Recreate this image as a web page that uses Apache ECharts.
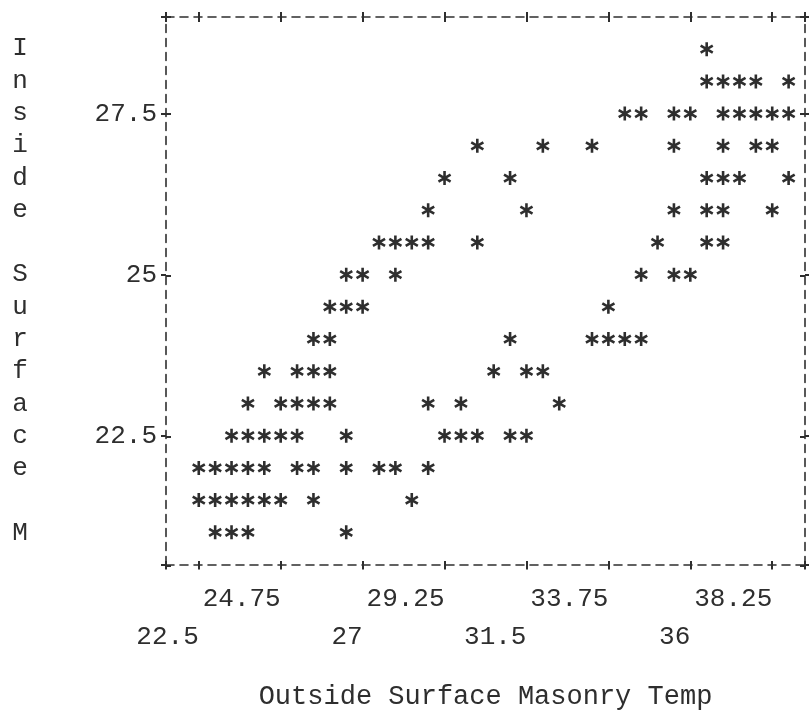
<!DOCTYPE html>
<html>
<head>
<meta charset="utf-8">
<script src="https://cdn.jsdelivr.net/npm/echarts@6/dist/echarts.min.js"></script>
<style>
  html, body { margin: 0; padding: 0; background: #fff; }
  #plot { width: 809px; height: 715px; }
</style>
</head>
<body>
<div id="plot"></div>
<script>
// rows of the printer plot: inside temp, and the outside temps printed on that row
var insideRows = [28.5, 28, 27.5, 27, 26.5, 26, 25.5, 25, 24.5, 24, 23.5, 23, 22.5, 22, 21.5, 21];
var outsideByRow = [
    [36.45],
    [36.45, 36.9, 37.35, 37.8, 38.7],
    [34.2, 34.65, 35.55, 36.0, 36.9, 37.35, 37.8, 38.25, 38.7],
    [30.15, 31.95, 33.3, 35.55, 36.9, 37.8, 38.25],
    [29.25, 31.05, 36.45, 36.9, 37.35, 38.7],
    [28.8, 31.5, 35.55, 36.45, 36.9, 38.25],
    [27.45, 27.9, 28.35, 28.8, 30.15, 35.1, 36.45, 36.9],
    [26.55, 27.0, 27.9, 34.65, 35.55, 36.0],
    [26.1, 26.55, 27.0, 33.75],
    [25.65, 26.1, 31.05, 33.3, 33.75, 34.2, 34.65],
    [24.3, 25.2, 25.65, 26.1, 30.6, 31.5, 31.95],
    [23.85, 24.75, 25.2, 25.65, 26.1, 28.8, 29.7, 32.4],
    [23.4, 23.85, 24.3, 24.75, 25.2, 26.55, 29.25, 29.7, 30.15, 31.05, 31.5],
    [22.5, 22.95, 23.4, 23.85, 24.3, 25.2, 25.65, 26.55, 27.45, 27.9, 28.8],
    [22.5, 22.95, 23.4, 23.85, 24.3, 24.75, 25.65, 28.35],
    [22.95, 23.4, 23.85, 26.55]
];

var xLabels = [22.5, 24.75, 27, 29.25, 31.5, 33.75, 36, 38.25];
var xTicks = [21.6, 22.5, 24.75, 27, 29.25, 31.5, 33.75, 36, 38.25, 39.15];
var yLabels = [22.5, 25, 27.5];
var yTicks = [20.5, 22.5, 25, 27.5, 29];
var xRange = [21.6, 39.15];
var yRange = [20.5, 29];

var xTitle = 'Outside Surface Masonry Temp';
var yTitle = 'Inside Surface M';

var points = [];
insideRows.forEach(function (y, i) {
    outsideByRow[i].forEach(function (x) { points.push([x, y]); });
});

var ink = '#2e2e2e';
var mono = "'Liberation Mono', 'DejaVu Sans Mono', monospace";

function xAxisOf(grid, pos, inside, withText) {
    return {
        type: 'value', gridIndex: grid, position: pos,
        min: xRange[0], max: xRange[1],
        axisLine: { show: !inside, lineStyle: { color: ink, width: 1.6, type: [8, 6] } },
        axisTick: { show: true, inside: inside, length: 5, customValues: xTicks,
                    lineStyle: { color: ink, width: 2 } },
        axisLabel: withText ? {
            show: true, customValues: xLabels, align: 'right', margin: 16,
            fontFamily: mono, fontSize: 26, color: ink, lineHeight: 38,
            formatter: function (v) {
                var k = xLabels.indexOf(v);
                return k % 2 === 0 ? '\n' + v : String(v);
            }
        } : { show: false },
        splitLine: { show: false },
        name: withText ? xTitle : '',
        nameLocation: 'middle', nameGap: 132,
        nameTextStyle: { fontFamily: mono, fontSize: 27, color: ink, verticalAlign: 'middle' }
    };
}

function yAxisOf(grid, pos, inside, withText) {
    return {
        type: 'value', gridIndex: grid, position: pos,
        min: yRange[0], max: yRange[1],
        axisLine: { show: !inside, lineStyle: { color: ink, width: 1.6, type: [8, 6] } },
        axisTick: { show: true, inside: inside, length: 5, customValues: yTicks,
                    lineStyle: { color: ink, width: 2 } },
        axisLabel: withText ? {
            show: true, customValues: yLabels, margin: 9,
            fontFamily: mono, fontSize: 26, color: ink
        } : { show: false },
        splitLine: { show: false },
        name: withText ? yTitle.split('').join('\n') : '',
        nameLocation: 'middle', nameRotate: 0, nameGap: 146,
        nameTextStyle: { fontFamily: mono, fontSize: 26, color: ink, lineHeight: 32.3,
                         align: 'center', verticalAlign: 'middle' }
    };
}

var chart = echarts.init(document.getElementById('plot'));
var box = { left: 166, right: 4, top: 17, bottom: 149, containLabel: false };

chart.setOption({
    backgroundColor: '#ffffff',
    animation: false,
    grid: [box, box],
    xAxis: [
        xAxisOf(0, 'bottom', false, true),
        xAxisOf(0, 'top', false, false),
        xAxisOf(1, 'bottom', true, false),
        xAxisOf(1, 'top', true, false)
    ],
    yAxis: [
        yAxisOf(0, 'left', false, true),
        yAxisOf(0, 'right', false, false),
        yAxisOf(1, 'left', true, false),
        yAxisOf(1, 'right', true, false)
    ],
    series: [{
        type: 'scatter',
        xAxisIndex: 0, yAxisIndex: 0,
        data: points,
        symbol: 'path://M6,0L6,12M0.8,3L11.2,9M0.8,9L11.2,3',
        symbolSize: 14,
        symbolKeepAspect: true,
        itemStyle: { color: 'rgba(0,0,0,0)', borderColor: ink, borderWidth: 2.6, opacity: 1 }
    }]
});
window.addEventListener('resize', chart.resize);
</script>
</body>
</html>
